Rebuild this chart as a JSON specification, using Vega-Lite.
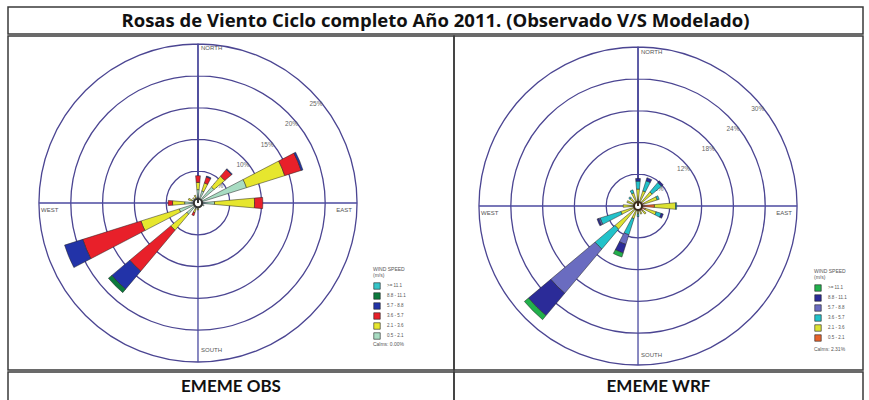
{
  "$schema": "https://vega.github.io/schema/vega-lite/v6.json",
  "padding": {"left": 7, "top": 6, "right": 7, "bottom": 3},
  "spacing": 0,
  "background": "white",
  "config": {
    "view": {"stroke": "#3a3a3a", "strokeWidth": 1.5},
    "axis": {"disable": true},
    "font": "Liberation Sans"
  },
  "datasets": {
    "obs": [
      {"dir": 0, "cls": "0.5 - 2.1", "f": 2.1}, {"dir": 0, "cls": "2.1 - 3.6", "f": 1.15}, {"dir": 0, "cls": "3.6 - 5.7", "f": 1.05},
      {"dir": 22.5, "cls": "0.5 - 2.1", "f": 2.0}, {"dir": 22.5, "cls": "2.1 - 3.6", "f": 1.3}, {"dir": 22.5, "cls": "3.6 - 5.7", "f": 1.0}, {"dir": 22.5, "cls": "5.7 - 8.8", "f": 0.15},
      {"dir": 45, "cls": "0.5 - 2.1", "f": 3.3}, {"dir": 45, "cls": "2.1 - 3.6", "f": 2.2}, {"dir": 45, "cls": "3.6 - 5.7", "f": 1.4}, {"dir": 45, "cls": "5.7 - 8.8", "f": 0.15},
      {"dir": 67.5, "cls": "0.5 - 2.1", "f": 8.0}, {"dir": 67.5, "cls": "2.1 - 3.6", "f": 6.3}, {"dir": 67.5, "cls": "3.6 - 5.7", "f": 2.7}, {"dir": 67.5, "cls": "5.7 - 8.8", "f": 0.3},
      {"dir": 90, "cls": "0.5 - 2.1", "f": 2.6}, {"dir": 90, "cls": "2.1 - 3.6", "f": 6.3}, {"dir": 90, "cls": "3.6 - 5.7", "f": 1.3},
      {"dir": 112.5, "cls": "0.5 - 2.1", "f": 1.0},
      {"dir": 135, "cls": "0.5 - 2.1", "f": 0.7},
      {"dir": 157.5, "cls": "0.5 - 2.1", "f": 0.6},
      {"dir": 180, "cls": "0.5 - 2.1", "f": 0.7}, {"dir": 180, "cls": "2.1 - 3.6", "f": 0.4},
      {"dir": 202.5, "cls": "0.5 - 2.1", "f": 1.0}, {"dir": 202.5, "cls": "2.1 - 3.6", "f": 0.6}, {"dir": 202.5, "cls": "3.6 - 5.7", "f": 0.5},
      {"dir": 225, "cls": "0.5 - 2.1", "f": 2.3}, {"dir": 225, "cls": "2.1 - 3.6", "f": 3.3}, {"dir": 225, "cls": "3.6 - 5.7", "f": 8.4}, {"dir": 225, "cls": "5.7 - 8.8", "f": 3.7}, {"dir": 225, "cls": "8.8 - 11.1", "f": 0.7},
      {"dir": 247.5, "cls": "0.5 - 2.1", "f": 3.1}, {"dir": 247.5, "cls": "2.1 - 3.6", "f": 6.3}, {"dir": 247.5, "cls": "3.6 - 5.7", "f": 9.6}, {"dir": 247.5, "cls": "5.7 - 8.8", "f": 3.0},
      {"dir": 270, "cls": "0.5 - 2.1", "f": 2.1}, {"dir": 270, "cls": "2.1 - 3.6", "f": 1.9}, {"dir": 270, "cls": "3.6 - 5.7", "f": 0.7},
      {"dir": 292.5, "cls": "0.5 - 2.1", "f": 1.0}, {"dir": 292.5, "cls": "2.1 - 3.6", "f": 0.6},
      {"dir": 315, "cls": "0.5 - 2.1", "f": 0.8}, {"dir": 315, "cls": "2.1 - 3.6", "f": 0.3},
      {"dir": 337.5, "cls": "0.5 - 2.1", "f": 0.9}, {"dir": 337.5, "cls": "2.1 - 3.6", "f": 0.4}
    ],
    "wrf": [
      {"dir": 0, "cls": "0.5 - 2.1", "f": 0.8}, {"dir": 0, "cls": "2.1 - 3.6", "f": 2.4}, {"dir": 0, "cls": "3.6 - 5.7", "f": 1.5}, {"dir": 0, "cls": "8.8 - 11.1", "f": 0.5},
      {"dir": 22.5, "cls": "0.5 - 2.1", "f": 0.8}, {"dir": 22.5, "cls": "2.1 - 3.6", "f": 2.2}, {"dir": 22.5, "cls": "3.6 - 5.7", "f": 2.0}, {"dir": 22.5, "cls": "8.8 - 11.1", "f": 0.6},
      {"dir": 45, "cls": "0.5 - 2.1", "f": 1.0}, {"dir": 45, "cls": "2.1 - 3.6", "f": 2.5}, {"dir": 45, "cls": "3.6 - 5.7", "f": 2.3}, {"dir": 45, "cls": "8.8 - 11.1", "f": 0.4},
      {"dir": 67.5, "cls": "0.5 - 2.1", "f": 1.2}, {"dir": 67.5, "cls": "2.1 - 3.6", "f": 2.6}, {"dir": 67.5, "cls": "3.6 - 5.7", "f": 0.4},
      {"dir": 90, "cls": "0.5 - 2.1", "f": 3.1}, {"dir": 90, "cls": "2.1 - 3.6", "f": 4.0}, {"dir": 90, "cls": "3.6 - 5.7", "f": 0.2},
      {"dir": 112.5, "cls": "0.5 - 2.1", "f": 1.5}, {"dir": 112.5, "cls": "2.1 - 3.6", "f": 2.1}, {"dir": 112.5, "cls": "3.6 - 5.7", "f": 1.0}, {"dir": 112.5, "cls": "8.8 - 11.1", "f": 0.4},
      {"dir": 135, "cls": "0.5 - 2.1", "f": 1.2}, {"dir": 135, "cls": "2.1 - 3.6", "f": 0.8},
      {"dir": 157.5, "cls": "0.5 - 2.1", "f": 1.0}, {"dir": 157.5, "cls": "2.1 - 3.6", "f": 0.6},
      {"dir": 180, "cls": "0.5 - 2.1", "f": 0.8}, {"dir": 180, "cls": "2.1 - 3.6", "f": 0.7}, {"dir": 180, "cls": "3.6 - 5.7", "f": 0.5},
      {"dir": 202.5, "cls": "0.5 - 2.1", "f": 0.6}, {"dir": 202.5, "cls": "2.1 - 3.6", "f": 1.9}, {"dir": 202.5, "cls": "3.6 - 5.7", "f": 3.2}, {"dir": 202.5, "cls": "5.7 - 8.8", "f": 1.9}, {"dir": 202.5, "cls": "8.8 - 11.1", "f": 1.7}, {"dir": 202.5, "cls": ">= 11.1", "f": 0.8},
      {"dir": 225, "cls": "0.5 - 2.1", "f": 0.5}, {"dir": 225, "cls": "2.1 - 3.6", "f": 5.2}, {"dir": 225, "cls": "3.6 - 5.7", "f": 4.9}, {"dir": 225, "cls": "5.7 - 8.8", "f": 10.9}, {"dir": 225, "cls": "8.8 - 11.1", "f": 5.5}, {"dir": 225, "cls": ">= 11.1", "f": 1.0},
      {"dir": 247.5, "cls": "0.5 - 2.1", "f": 0.5}, {"dir": 247.5, "cls": "2.1 - 3.6", "f": 2.9}, {"dir": 247.5, "cls": "3.6 - 5.7", "f": 4.1}, {"dir": 247.5, "cls": "5.7 - 8.8", "f": 0.3}, {"dir": 247.5, "cls": "8.8 - 11.1", "f": 0.3},
      {"dir": 270, "cls": "0.5 - 2.1", "f": 0.5}, {"dir": 270, "cls": "2.1 - 3.6", "f": 2.3},
      {"dir": 292.5, "cls": "0.5 - 2.1", "f": 0.5}, {"dir": 292.5, "cls": "2.1 - 3.6", "f": 1.7},
      {"dir": 315, "cls": "0.5 - 2.1", "f": 0.5}, {"dir": 315, "cls": "2.1 - 3.6", "f": 1.5}, {"dir": 315, "cls": "3.6 - 5.7", "f": 0.3},
      {"dir": 337.5, "cls": "0.5 - 2.1", "f": 0.6}, {"dir": 337.5, "cls": "2.1 - 3.6", "f": 2.0}, {"dir": 337.5, "cls": "3.6 - 5.7", "f": 0.6}
    ],
    "ringsObs": [{"r": 5, "label": "5%"}, {"r": 10, "label": "10%"}, {"r": 15, "label": "15%"}, {"r": 20, "label": "20%"}, {"r": 25, "label": "25%"}],
    "ringsWrf": [{"r": 6, "label": "6%"}, {"r": 12, "label": "12%"}, {"r": 18, "label": "18%"}, {"r": 24, "label": "24%"}, {"r": 30, "label": "30%"}]
  },
  "vconcat": [
    {
      "width": 855,
      "height": 27,
      "view": {"stroke": "#3a3a3a", "strokeWidth": 1.5},
      "data": {"values": [{"t": "Rosas de Viento Ciclo completo Año 2011. (Observado V/S Modelado)"}]},
      "mark": {"type": "text", "font": "Open Sans", "fontSize": 18.5, "fontWeight": "bold", "color": "#111"},
      "encoding": {"text": {"field": "t"}}
    },
    {
      "hconcat": [
        {
          "width": 446,
          "height": 334,
          "encoding": {
            "x": {"datum": 0, "type": "quantitative", "scale": {"domain": [-29.87, 40.25], "nice": false, "zero": false}, "axis": null},
            "y": {"datum": 0, "type": "quantitative", "scale": {"domain": [-26.26, 26.26], "nice": false, "zero": false}, "axis": null}
          },
          "layer": [
            {
              "data": {"name": "ringsObs"},
              "mark": {"type": "arc", "filled": false, "color": "#4b4592", "strokeWidth": 1.3},
              "encoding": {
                "theta": {"datum": 0, "type": "quantitative", "scale": {"domain": [0, 360], "range": [0, 6.283185307]}},
                "theta2": {"datum": 360},
                "radius": {"field": "r", "type": "quantitative", "stack": null, "scale": {"type": "linear", "domain": [0, 25], "range": [0, 159], "zero": true}}
              }
            },
            {
              "data": {"values": [{}]},
              "mark": {"type": "rule", "color": "#4b4aa0", "strokeWidth": 1.3},
              "encoding": {"y": {"datum": -25, "type": "quantitative"}, "y2": {"datum": 25}}
            },
            {
              "data": {"values": [{}]},
              "mark": {"type": "rule", "color": "#4b4aa0", "strokeWidth": 1.3},
              "encoding": {"x": {"datum": -25, "type": "quantitative"}, "x2": {"datum": 25}}
            },
            {
              "data": {"name": "ringsObs"},
              "mark": {"type": "text", "fontSize": 6.5, "color": "#666", "radiusOffset": -5},
              "encoding": {
                "theta": {"datum": 50, "type": "quantitative"},
                "radius": {"field": "r", "type": "quantitative"},
                "text": {"field": "label"}
              }
            },
            {
              "data": {"values": [{"t": "NORTH"}]},
              "mark": {"type": "text", "fontSize": 6, "color": "#555", "align": "left", "baseline": "top", "dx": 3, "dy": 1},
              "encoding": {"y": {"datum": 25, "type": "quantitative"}, "text": {"field": "t"}}
            },
            {
              "data": {"values": [{"t": "SOUTH"}]},
              "mark": {"type": "text", "fontSize": 6, "color": "#555", "align": "left", "baseline": "bottom", "dx": 3, "dy": -9},
              "encoding": {"y": {"datum": -25, "type": "quantitative"}, "text": {"field": "t"}}
            },
            {
              "data": {"values": [{"t": "WEST"}]},
              "mark": {"type": "text", "fontSize": 6, "color": "#555", "align": "left", "baseline": "top", "dx": 2, "dy": 4},
              "encoding": {"x": {"datum": -25, "type": "quantitative"}, "text": {"field": "t"}}
            },
            {
              "data": {"values": [{"t": "EAST"}]},
              "mark": {"type": "text", "fontSize": 6, "color": "#555", "align": "right", "baseline": "top", "dx": -5, "dy": 4},
              "encoding": {"x": {"datum": 25, "type": "quantitative"}, "text": {"field": "t"}}
            },
            {
              "data": {"name": "obs"},
              "transform": [{"stack": "f", "groupby": ["dir"], "sort": [{"field": "cls", "order": "ascending"}], "as": ["r0", "r1"]}],
              "mark": {"type": "arc", "stroke": "#222", "strokeWidth": 0.5, "thetaOffset": -0.087, "theta2Offset": 0.087},
              "encoding": {
                "theta": {"field": "dir", "type": "quantitative", "stack": null},
                "theta2": {"field": "dir"},
                "radius": {"field": "r1", "type": "quantitative", "stack": null},
                "radius2": {"field": "r0"},
                "color": {
                  "field": "cls", "type": "nominal",
                  "scale": {"domain": [">= 11.1", "8.8 - 11.1", "5.7 - 8.8", "3.6 - 5.7", "2.1 - 3.6", "0.5 - 2.1"], "range": ["#35c5c8", "#0b7a3c", "#2233a8", "#e8202a", "#e6e62e", "#a8dcc2"]},
                  "legend": {"title": ["WIND SPEED", "(m/s)"], "orient": "none", "legendX": 365, "legendY": 231, "symbolType": "square", "symbolSize": 42, "symbolStrokeColor": "#222", "symbolStrokeWidth": 0.6, "labelFontSize": 4.5, "titleFontSize": 5, "titleFontWeight": "normal", "titleLineHeight": 6, "rowPadding": 0, "labelColor": "#555", "titleColor": "#555", "titlePadding": 4, "labelOffset": 6}
                }
              }
            },
            {
              "data": {"values": [{}]},
              "mark": {"type": "arc", "fill": "white", "stroke": "#333", "strokeWidth": 2},
              "encoding": {"theta": {"datum": 0, "type": "quantitative"}, "theta2": {"datum": 360}, "radius": {"datum": 0.65, "type": "quantitative"}}
            },
            {
              "data": {"values": [{"t": "Calms: 0.00%"}]},
              "mark": {"type": "text", "fontSize": 5, "color": "#555", "align": "left"},
              "encoding": {"x": {"datum": 27.5, "type": "quantitative"}, "y": {"datum": -22.2, "type": "quantitative"}, "text": {"field": "t"}}
            }
          ]
        },
        {
          "width": 409,
          "height": 334,
          "encoding": {
            "x": {"datum": 0, "type": "quantitative", "scale": {"domain": [-34.72, 42.45], "nice": false, "zero": false}, "axis": null},
            "y": {"datum": 0, "type": "quantitative", "scale": {"domain": [-30.94, 32.08], "nice": false, "zero": false}, "axis": null}
          },
          "layer": [
            {
              "data": {"name": "ringsWrf"},
              "mark": {"type": "arc", "filled": false, "color": "#4b4592", "strokeWidth": 1.3},
              "encoding": {
                "theta": {"datum": 0, "type": "quantitative", "scale": {"domain": [0, 360], "range": [0, 6.283185307]}},
                "theta2": {"datum": 360},
                "radius": {"field": "r", "type": "quantitative", "stack": null, "scale": {"type": "linear", "domain": [0, 30], "range": [0, 159], "zero": true}}
              }
            },
            {
              "data": {"values": [{}]},
              "mark": {"type": "rule", "color": "#4b4aa0", "strokeWidth": 1.3},
              "encoding": {"y": {"datum": -30, "type": "quantitative"}, "y2": {"datum": 30}}
            },
            {
              "data": {"values": [{}]},
              "mark": {"type": "rule", "color": "#4b4aa0", "strokeWidth": 1.3},
              "encoding": {"x": {"datum": -30, "type": "quantitative"}, "x2": {"datum": 30}}
            },
            {
              "data": {"name": "ringsWrf"},
              "mark": {"type": "text", "fontSize": 6.5, "color": "#666", "radiusOffset": -5},
              "encoding": {
                "theta": {"datum": 51, "type": "quantitative"},
                "radius": {"field": "r", "type": "quantitative"},
                "text": {"field": "label"}
              }
            },
            {
              "data": {"values": [{"t": "NORTH"}]},
              "mark": {"type": "text", "fontSize": 6, "color": "#555", "align": "left", "baseline": "top", "dx": 3, "dy": 2},
              "encoding": {"y": {"datum": 30, "type": "quantitative"}, "text": {"field": "t"}}
            },
            {
              "data": {"values": [{"t": "SOUTH"}]},
              "mark": {"type": "text", "fontSize": 6, "color": "#555", "align": "left", "baseline": "bottom", "dx": 3, "dy": -7},
              "encoding": {"y": {"datum": -30, "type": "quantitative"}, "text": {"field": "t"}}
            },
            {
              "data": {"values": [{"t": "WEST"}]},
              "mark": {"type": "text", "fontSize": 6, "color": "#555", "align": "left", "baseline": "top", "dx": 2, "dy": 4},
              "encoding": {"x": {"datum": -30, "type": "quantitative"}, "text": {"field": "t"}}
            },
            {
              "data": {"values": [{"t": "EAST"}]},
              "mark": {"type": "text", "fontSize": 6, "color": "#555", "align": "right", "baseline": "top", "dx": -5, "dy": 4},
              "encoding": {"x": {"datum": 30, "type": "quantitative"}, "text": {"field": "t"}}
            },
            {
              "data": {"name": "wrf"},
              "transform": [{"stack": "f", "groupby": ["dir"], "sort": [{"field": "cls", "order": "ascending"}], "as": ["r0", "r1"]}],
              "mark": {"type": "arc", "stroke": "#222", "strokeWidth": 0.5, "thetaOffset": -0.087, "theta2Offset": 0.087},
              "encoding": {
                "theta": {"field": "dir", "type": "quantitative", "stack": null},
                "theta2": {"field": "dir"},
                "radius": {"field": "r1", "type": "quantitative", "stack": null},
                "radius2": {"field": "r0"},
                "color": {
                  "field": "cls", "type": "nominal",
                  "scale": {"domain": [">= 11.1", "8.8 - 11.1", "5.7 - 8.8", "3.6 - 5.7", "2.1 - 3.6", "0.5 - 2.1"], "range": ["#22b04c", "#2b2b98", "#6a6cc0", "#22c2ca", "#dce232", "#e8622a"]},
                  "legend": {"title": ["WIND SPEED", "(m/s)"], "orient": "none", "legendX": 360, "legendY": 233, "symbolType": "square", "symbolSize": 42, "symbolStrokeColor": "#222", "symbolStrokeWidth": 0.6, "labelFontSize": 4.5, "titleFontSize": 5, "titleFontWeight": "normal", "titleLineHeight": 6, "rowPadding": 0, "labelColor": "#555", "titleColor": "#555", "titlePadding": 4, "labelOffset": 6}
                }
              }
            },
            {
              "data": {"values": [{}]},
              "mark": {"type": "arc", "fill": "white", "stroke": "#3a2a1a", "strokeWidth": 2},
              "encoding": {"theta": {"datum": 0, "type": "quantitative"}, "theta2": {"datum": 360}, "radius": {"datum": 0.75, "type": "quantitative"}}
            },
            {
              "data": {"values": [{"t": "Calms: 2.31%"}]},
              "mark": {"type": "text", "fontSize": 5, "color": "#555", "align": "left"},
              "encoding": {"x": {"datum": 33.2, "type": "quantitative"}, "y": {"datum": -26.9, "type": "quantitative"}, "text": {"field": "t"}}
            }
          ]
        }
      ],
      "spacing": 0,
      "bounds": "flush",
      "resolve": {"scale": {"x": "independent", "y": "independent", "theta": "independent", "radius": "independent", "color": "independent"}, "legend": {"color": "independent"}}
    },
    {
      "hconcat": [
        {
          "width": 446,
          "height": 30,
          "view": {"stroke": "#3a3a3a", "strokeWidth": 1.5},
          "data": {"values": [{"t": "EMEME OBS"}]},
          "mark": {"type": "text", "font": "Lato", "fontSize": 17, "fontWeight": "bold", "color": "#111"},
          "encoding": {"text": {"field": "t"}}
        },
        {
          "width": 409,
          "height": 30,
          "view": {"stroke": "#3a3a3a", "strokeWidth": 1.5},
          "data": {"values": [{"t": "EMEME WRF"}]},
          "mark": {"type": "text", "font": "Lato", "fontSize": 17, "fontWeight": "bold", "color": "#111"},
          "encoding": {"text": {"field": "t"}}
        }
      ],
      "spacing": 0,
      "bounds": "flush"
    }
  ]
}
